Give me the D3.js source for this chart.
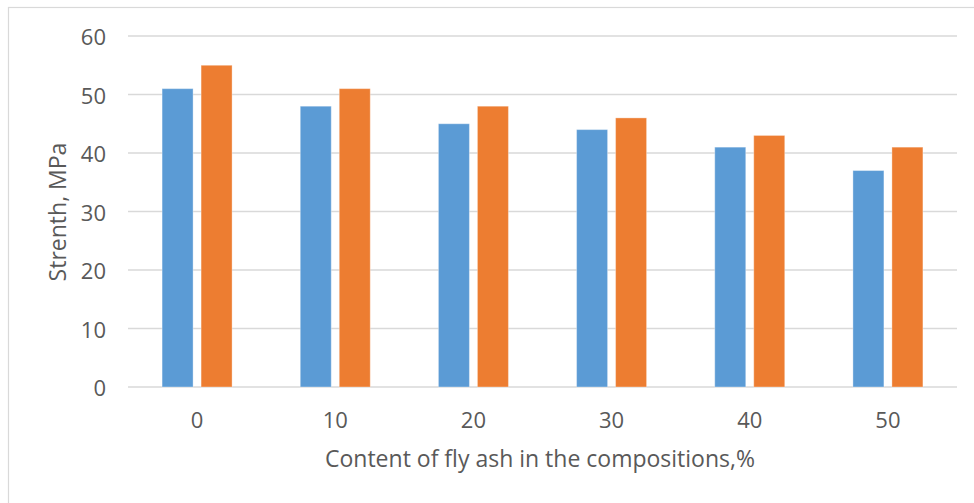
<!DOCTYPE html>
<html>
<head>
<meta charset="utf-8">
<script src="https://cdn.jsdelivr.net/npm/d3@7"></script>
<style>
  html, body { margin: 0; padding: 0; background: #fff; }
  svg { display: block; }
  text { font-family: "Open Sans", "Liberation Sans", sans-serif; fill: #595959; }
</style>
</head>
<body>
<script>
// Fly ash content (%) and compressive strength of the two series
const categories = ["0", "10", "20", "30", "40", "50"];
const seriesA = [51, 48, 45, 44, 41, 37];
const seriesB = [55, 51, 48, 46, 43, 41];
const yTicks = [0, 10, 20, 30, 40, 50, 60];
const colors = ["#5b9bd5", "#ed7d31"];

const W = 974, H = 503;
const plot = { left: 128, right: 957, top: 36, bottom: 387 };

const svg = d3.select("body").append("svg").attr("width", W).attr("height", H);

// chart frame
svg.append("rect")
  .attr("x", 8.5).attr("y", 7.5)
  .attr("width", W + 10).attr("height", H + 10)
  .attr("fill", "#fff").attr("stroke", "#d9d9d9").attr("stroke-width", 1.2);

const x = d3.scaleBand().domain(categories).range([plot.left, plot.right]);
const y = d3.scaleLinear().domain([0, 60]).range([plot.bottom, plot.top]);

// horizontal gridlines
svg.append("g").selectAll("line").data(yTicks).join("line")
  .attr("x1", plot.left).attr("x2", plot.right)
  .attr("y1", d => y(d)).attr("y2", d => y(d))
  .attr("stroke", "#d9d9d9").attr("stroke-width", 1.5);

// y tick labels
svg.append("g").selectAll("text").data(yTicks).join("text")
  .attr("x", 106).attr("y", d => y(d))
  .attr("text-anchor", "end").attr("dominant-baseline", "central")
  .style("font-size", "22px")
  .text(d => d);

// bars
const barW = 31, gap = 8;
const series = [seriesA, seriesB];
series.forEach((vals, si) => {
  svg.append("g").selectAll("rect").data(vals).join("rect")
    .attr("x", (d, i) => x(categories[i]) + x.bandwidth() / 2 + (si === 0 ? -(gap / 2 + barW) : gap / 2))
    .attr("width", barW)
    .attr("y", d => y(d))
    .attr("height", d => y(0) - y(d))
    .attr("fill", colors[si])
    .attr("stroke", "#fff").attr("stroke-opacity", 0.35).attr("stroke-width", 1);
});

// x tick labels
svg.append("g").selectAll("text").data(categories).join("text")
  .attr("x", d => x(d) + x.bandwidth() / 2).attr("y", 419)
  .attr("text-anchor", "middle").attr("dominant-baseline", "central")
  .style("font-size", "22px")
  .text(d => d);

// axis titles
svg.append("text")
  .attr("x", 540).attr("y", 467)
  .attr("text-anchor", "middle")
  .style("font-size", "23px")
  .text("Content of fly ash in the compositions,%");

svg.append("text")
  .attr("transform", "translate(66,212) rotate(-90)")
  .attr("text-anchor", "middle")
  .style("font-size", "23px")
  .text("Strenth, MPa");
</script>
</body>
</html>
